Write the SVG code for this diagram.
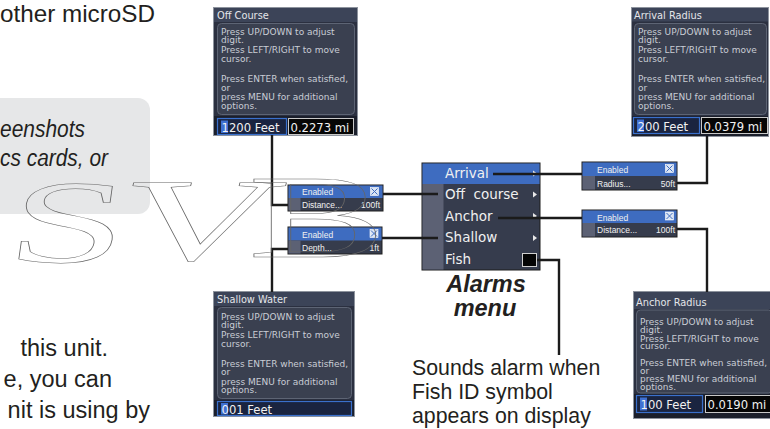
<svg xmlns="http://www.w3.org/2000/svg" width="770" height="429" viewBox="0 0 770 429">
<style>
.doc{font-family:'Liberation Sans',Arial,sans-serif;fill:#231f20}
.frame{fill:#2b3040;stroke:#8d939d;stroke-width:1}
.tbar{fill:#3c4458}
.ttl{font-family:'DejaVu Sans',sans-serif;font-size:9.8px;fill:#e4e6ea}
.body{fill:#3a4050;stroke:#5d6474;stroke-width:1}
.bt{font-family:'DejaVu Sans',sans-serif;font-size:9px;fill:#c9cdd5}
.ibar{fill:#1b1f2b}
.f1{fill:#1a2440;stroke:#3a70cc;stroke-width:1.2}
.cur{fill:#3f70d2}
.f2{fill:#060606;stroke:#c8c8c8;stroke-width:1}
.it{font-family:'DejaVu Sans',sans-serif;font-size:11.6px;fill:#f2f2f2}
.mt{font-family:'DejaVu Sans',sans-serif;font-size:13.5px;fill:#f0f0f0}
.pbg{fill:#363c4c;stroke:#1e1e1e;stroke-width:1}
.blue{fill:#3e6cc0}
.grey{fill:#5c6174}
.pt{font-family:'Liberation Sans',Arial,sans-serif;font-size:8.5px;fill:#f0f0f0}
.chk{fill:#dbe5f4;stroke:#ffffff;stroke-width:0.6}
.chx{stroke:#3e6cc0;stroke-width:1}
.cn{fill:none;stroke:#1b1b1b;stroke-width:2.4}
.tri{fill:#e8e8e8}
</style>

<g id="page-text">
  <rect x="-20" y="98" width="170" height="116" rx="12" fill="#e6e7e8"/>
  <text class="doc" x="0" y="22" font-size="24" textLength="155" lengthAdjust="spacingAndGlyphs">other microSD</text>
  <text class="doc" x="0" y="137" font-size="23" font-style="italic" textLength="85" lengthAdjust="spacingAndGlyphs">eenshots</text>
  <text class="doc" x="0" y="166" font-size="23" font-style="italic" textLength="108" lengthAdjust="spacingAndGlyphs">cs cards, or</text>
  <text class="doc" x="108" y="356" font-size="23.5" text-anchor="end">this unit.</text>
  <text class="doc" x="112" y="387" font-size="23.5" text-anchor="end">e, you can</text>
  <text class="doc" x="150" y="418" font-size="23.5" text-anchor="end">nit is using by</text>
</g>

<g id="off-course-screen">
  <rect class="frame" x="213.5" y="7.5" width="144" height="128"/>
  <rect class="tbar" x="214" y="8" width="143" height="14"/>
  <text class="ttl" x="217" y="18.5">Off Course</text>
  <rect class="body" x="217.5" y="23.5" width="137" height="91" rx="4"/>
  <text class="bt"><tspan x="221" y="35">Press UP/DOWN to adjust</tspan><tspan x="221" y="43">digit.</tspan><tspan x="221" y="53">Press LEFT/RIGHT to move</tspan><tspan x="221" y="61.5">cursor.</tspan><tspan x="221" y="81.5">Press ENTER when satisfied,</tspan><tspan x="221" y="90.5">or</tspan><tspan x="221" y="99.5">press MENU for additional</tspan><tspan x="221" y="108.5">options.</tspan></text>
  <rect class="ibar" x="214" y="116" width="143" height="19"/>
  <rect class="f1" x="217.5" y="118.5" width="69" height="16"/>
  <rect class="cur" x="221" y="120.5" width="7" height="12.5"/>
  <text class="it" x="221.5" y="131.5">1200 Feet</text>
  <rect class="f2" x="288.5" y="118.5" width="65" height="16"/>
  <text class="it" x="290.5" y="131.5">0.2273 mi</text>
</g>

<g id="arrival-radius-screen">
  <rect class="frame" x="631.5" y="7.5" width="137" height="129"/>
  <rect class="tbar" x="632" y="8" width="136" height="13.5"/>
  <text class="ttl" x="634" y="18.5">Arrival Radius</text>
  <rect class="body" x="634.5" y="23.5" width="132" height="91" rx="4"/>
  <text class="bt"><tspan x="638" y="35">Press UP/DOWN to adjust</tspan><tspan x="638" y="43">digit.</tspan><tspan x="638" y="53">Press LEFT/RIGHT to move</tspan><tspan x="638" y="61.5">cursor.</tspan><tspan x="638" y="81.5">Press ENTER when satisfied,</tspan><tspan x="638" y="90.5">or</tspan><tspan x="638" y="99.5">press MENU for additional</tspan><tspan x="638" y="108.5">options.</tspan></text>
  <rect class="ibar" x="632" y="116" width="136" height="20"/>
  <rect class="f1" x="633.5" y="117.5" width="66" height="16"/>
  <rect class="cur" x="637" y="119.5" width="7" height="12.5"/>
  <text class="it" x="637.5" y="130.5">200 Feet</text>
  <rect class="f2" x="701.5" y="117.5" width="66" height="16"/>
  <text class="it" x="703.5" y="130.5">0.0379 mi</text>
</g>

<g id="shallow-water-screen">
  <rect class="frame" x="213.5" y="291.5" width="141" height="125"/>
  <rect class="tbar" x="214" y="292" width="140" height="14"/>
  <text class="ttl" x="217" y="303">Shallow Water</text>
  <rect class="body" x="217.5" y="307.5" width="134" height="91" rx="4"/>
  <text class="bt"><tspan x="221" y="320">Press UP/DOWN to adjust</tspan><tspan x="221" y="328">digit.</tspan><tspan x="221" y="338">Press LEFT/RIGHT to move</tspan><tspan x="221" y="346.5">cursor.</tspan><tspan x="221" y="366.5">Press ENTER when satisfied,</tspan><tspan x="221" y="375">or</tspan><tspan x="221" y="384.5">press MENU for additional</tspan><tspan x="221" y="393">options.</tspan></text>
  <rect class="ibar" x="214" y="400" width="140" height="16"/>
  <rect class="f1" x="217.5" y="401.5" width="134" height="14"/>
  <rect class="cur" x="221" y="403" width="7" height="11.5"/>
  <text class="it" x="221.5" y="413.5">001 Feet</text>
</g>

<g id="anchor-radius-screen">
  <rect class="frame" x="633.5" y="291.5" width="138" height="127"/>
  <rect class="tbar" x="634" y="292" width="137" height="17"/>
  <text class="ttl" x="636" y="306">Anchor Radius</text>
  <rect class="body" x="636.5" y="310" width="136" height="83" rx="4"/>
  <text class="bt"><tspan x="640" y="325">Press UP/DOWN to adjust</tspan><tspan x="640" y="332.5">digit.</tspan><tspan x="640" y="341.5">Press LEFT/RIGHT to move</tspan><tspan x="640" y="349">cursor.</tspan><tspan x="640" y="366">Press ENTER when satisfied,</tspan><tspan x="640" y="374">or</tspan><tspan x="640" y="382">press MENU for additional</tspan><tspan x="640" y="390">options.</tspan></text>
  <rect class="ibar" x="634" y="394" width="137" height="24"/>
  <rect class="f1" x="636.5" y="395.5" width="66" height="17"/>
  <rect class="cur" x="640" y="397.5" width="7" height="13"/>
  <text class="it" x="640.5" y="409">100 Feet</text>
  <rect class="f2" x="705.5" y="395.5" width="66" height="17"/>
  <text class="it" x="707.5" y="409">0.0190 mi</text>
</g>

<g id="alarms-menu">
  <rect x="422" y="163" width="118" height="107" fill="#363c4d" stroke="#1d1d1d"/>
  <rect class="blue" x="422.5" y="163.5" width="117" height="20.5"/>
  <rect class="grey" x="422.5" y="184" width="21" height="85.5"/>
  <text class="mt" x="445" y="177.5">Arrival</text>
  <text class="mt" x="445" y="199" xml:space="preserve">Off  course</text>
  <text class="mt" x="445" y="220.5">Anchor</text>
  <text class="mt" x="445" y="242">Shallow</text>
  <text class="mt" x="445" y="263.5">Fish</text>
  <polygon class="tri" points="533,170.5 537,173.5 533,176.5"/>
  <polygon class="tri" points="533,191.5 537,194.5 533,197.5"/>
  <polygon class="tri" points="533,213 537,216 533,219"/>
  <polygon class="tri" points="533,235 537,238 533,241"/>
  <rect x="522.5" y="253.5" width="14" height="13" fill="#050505" stroke="#d0d0d0"/>
  <text class="doc" x="486" y="292" font-size="23.5" font-weight="bold" font-style="italic" text-anchor="middle">Alarms</text>
  <text class="doc" x="485" y="316" font-size="23.5" font-weight="bold" font-style="italic" text-anchor="middle">menu</text>
</g>

<g id="off-course-popup">
  <rect class="pbg" x="288" y="185" width="95" height="26"/>
  <rect class="blue" x="288.5" y="185.5" width="94" height="12.5"/>
  <rect class="grey" x="288.5" y="198" width="12" height="12.5"/>
  <text class="pt" x="302" y="195">Enabled</text>
  <rect class="chk" x="370.5" y="187.5" width="8" height="8"/>
  <path class="chx" d="M371.5 188.5 L377.5 194.5 M377.5 188.5 L371.5 194.5"/>
  <text class="pt" x="302" y="208">Distance...</text>
  <text class="pt" x="380" y="208" text-anchor="end">100ft</text>
</g>

<g id="shallow-popup">
  <rect class="pbg" x="288" y="227" width="94" height="27"/>
  <rect class="blue" x="288.5" y="227.5" width="93" height="13"/>
  <rect class="grey" x="288.5" y="240.5" width="12" height="13"/>
  <text class="pt" x="302" y="237.5">Enabled</text>
  <rect class="chk" x="370" y="229.5" width="8" height="8"/>
  <path class="chx" d="M371 230.5 L377 236.5 M377 230.5 L371 236.5"/>
  <text class="pt" x="302" y="251">Depth...</text>
  <text class="pt" x="379" y="251" text-anchor="end">1ft</text>
</g>

<g id="arrival-popup">
  <rect class="pbg" x="582" y="162" width="95" height="28"/>
  <rect class="blue" x="582.5" y="162.5" width="94" height="13.5"/>
  <rect class="grey" x="582.5" y="176" width="12.5" height="13.5"/>
  <text class="pt" x="597" y="173">Enabled</text>
  <rect class="chk" x="665.5" y="164.5" width="8" height="8"/>
  <path class="chx" d="M666.5 165.5 L672.5 171.5 M672.5 165.5 L666.5 171.5"/>
  <text class="pt" x="597" y="186.5">Radius...</text>
  <text class="pt" x="675" y="186.5" text-anchor="end">50ft</text>
</g>

<g id="anchor-popup">
  <rect class="pbg" x="582" y="210" width="95" height="27"/>
  <rect class="blue" x="582.5" y="210.5" width="94" height="12.5"/>
  <rect class="grey" x="582.5" y="223" width="12.5" height="13.5"/>
  <text class="pt" x="597" y="220.5">Enabled</text>
  <rect class="chk" x="665.5" y="212" width="8" height="8"/>
  <path class="chx" d="M666.5 213 L672.5 219 M672.5 213 L666.5 219"/>
  <text class="pt" x="597" y="233">Distance...</text>
  <text class="pt" x="675" y="233" text-anchor="end">100ft</text>
</g>

<g id="connectors">
  <path class="cn" d="M272 135 V205 H288"/>
  <path class="cn" d="M383 194 H438"/>
  <path class="cn" d="M272 292 V249 H288"/>
  <path class="cn" d="M382 238 H438"/>
  <path class="cn" d="M493 174 H582"/>
  <path class="cn" d="M677 183 H707 V136"/>
  <path class="cn" d="M498 218 H582"/>
  <path class="cn" d="M677 229 H707 V292"/>
  <path class="cn" d="M537 260 H559 V355"/>
</g>

<g id="fish-note">
  <text class="doc" font-size="21.3"><tspan x="412" y="375">Sounds alarm when</tspan><tspan x="412" y="399">Fish ID symbol</tspan><tspan x="412" y="423">appears on display</tspan></text>
</g>

<g id="watermark" fill="none" stroke="#666" stroke-width="0.7" font-family="'Liberation Serif',serif" font-size="118">
  <text transform="translate(4,262) skewX(-8) scale(1.8,1)" vector-effect="non-scaling-stroke">S</text>
  <text transform="translate(112,260) skewX(-14) scale(1.85,1)" vector-effect="non-scaling-stroke">V</text>
  <text transform="translate(248,257) scale(1.75,1)" vector-effect="non-scaling-stroke">B</text>
</g>
</svg>
